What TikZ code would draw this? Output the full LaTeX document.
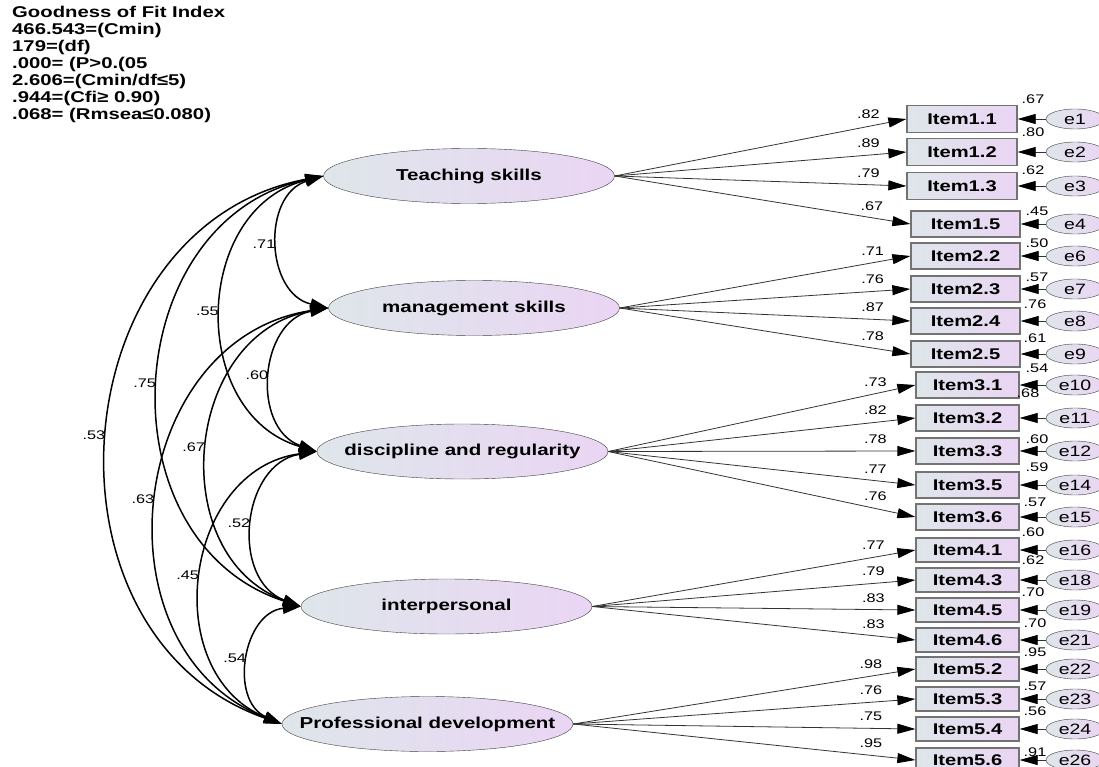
\documentclass[tikz,border=0pt]{standalone}
\usepackage{fontspec}
\setmainfont{Liberation Sans}[FakeStretch=1.3]
\usetikzlibrary{arrows.meta,shapes.geometric}
\definecolor{amos-blue}{HTML}{DEE6EA}
\definecolor{amos-lilac}{HTML}{EAD5F4}
\tikzset{
    latent/.style = {draw=black!75, ellipse, left color=amos-blue, right color=amos-lilac, minimum width=291pt, minimum height=55pt, inner xsep=-60pt, inner ysep=0pt, font=\fontsize{15.8}{17}\selectfont\bfseries},
    item-box/.style = {draw=black!55, line width=1.3pt, rectangle, left color=amos-blue, right color=amos-lilac, inner sep=0pt, font=\fontsize{15.5}{17}\selectfont\bfseries},
    error/.style = {draw=black!75, ellipse, left color=amos-blue, right color=amos-lilac, minimum width=58pt, minimum height=20pt, inner sep=0pt, font=\fontsize{15}{17}\selectfont},
    load/.style = {draw=black!80, line width=0.8pt, -{Triangle[length=18pt, width=10pt, color=black]}},
    cov/.style = {draw=black, line width=1.5pt, {Triangle[length=18pt, width=11pt]}-{Triangle[length=18pt, width=11pt]}},
    est/.style = {inner sep=1pt, font=\fontsize{12.5}{14}\selectfont},
}
\begin{document}
\begin{tikzpicture}[x=1pt, y=-1pt]
\useasboundingbox (0,0) rectangle (1099,767);

% fit statistics
\node[anchor=north west, align=left, inner sep=0pt, font=\fontsize{15.6}{17}\selectfont\bfseries] (fit) at (12,6) {Goodness of Fit Index\\466.543=(Cmin)\\179=(df)\\.000= (P>0.(05\\2.606=(Cmin/df≤5)\\.944=(Cfi≥ 0.90)\\.068= (Rmsea≤0.080)};

% factors
\node[latent] (teach) at (469,176) {Teaching skills};
\node[latent] (manage) at (474,308) {management skills};
\node[latent] (disc) at (462.5,451.5) {discipline and regularity};
\node[latent] (inter) at (446.5,606.5) {interpersonal};
\node[latent] (prof) at (427.5,724) {Professional development};

% items, errors and estimates
\foreach \nm/\txt/\cx/\bw/\bh/\cy/\fac/\ld/\vx/\vy/\vl/\err in {
    i11/Item1.1/962/110/27/119/teach/.82/1033/99/.67/e1,
    i12/Item1.2/962/110/27/152/teach/.89/1033/132/.80/e2,
    i13/Item1.3/962/110/27/186/teach/.79/1033/170/.62/e3,
    i15/Item1.5/965.5/109/26/224/teach/.67/1037/211/.45/e4,
    i22/Item2.2/965.5/109/26/256/manage/.71/1037/243/.50/e6,
    i23/Item2.3/965.5/109/26/289/manage/.76/1037/277/.57/e7,
    i24/Item2.4/965.5/109/26/321/manage/.87/1035/304/.76/e8,
    i25/Item2.5/965.5/109/26/354/manage/.78/1035/338/.61/e9,
    i31/Item3.1/967.5/103/26/385/disc/.73/1037/368/.54/e10,
    i32/Item3.2/967.5/103/26/418/disc/.82/1028/393/.68/e11,
    i33/Item3.3/967.5/103/26/451/disc/.78/1037/439/.60/e12,
    i35/Item3.5/967.5/103/26/485/disc/.77/1037/467/.59/e14,
    i36/Item3.6/967.5/103/26/517/disc/.76/1035/502/.57/e15,
    i41/Item4.1/967.5/103/24/550/inter/.77/1033/532/.60/e16,
    i43/Item4.3/967.5/103/24/580/inter/.79/1033/560/.62/e18,
    i45/Item4.5/967.5/103/24/610/inter/.83/1033/592/.70/e19,
    i46/Item4.6/967.5/103/24/640/inter/.83/1035/623/.70/e21,
    i52/Item5.2/967.5/103/24/669/prof/.98/1035/652/.95/e22,
    i53/Item5.3/967.5/103/24/699/prof/.76/1035/686/.57/e23,
    i54/Item5.4/967.5/103/24/729/prof/.75/1035/711/.56/e24,
    i56/Item5.6/967.5/103/24/760/prof/.95/1035/752/.91/e26}{
    \node[item-box, minimum width=\bw pt, minimum height=\bh pt] (\nm) at (\cx,\cy) {\txt};
    \node[error] (\err) at (1075,\cy) {\err};
    \draw[load] (\fac.east) -- (\nm.west) node[est, pos=.87, above=6pt] (l-\nm) {\ld};
    \draw[load] (\err.west) -- (\nm.east);
    \node[est] (v-\nm) at (\vx,\vy) {\vl};
}

% correlations between factors
\foreach \a/\b/\r in {teach/manage/.71, teach/disc/.55, teach/inter/.75, teach/prof/.53,
    manage/disc/.60, manage/inter/.67, manage/prof/.63,
    disc/inter/.52, disc/prof/.45, inter/prof/.54}
    \draw[cov] (\a.west) to[bend right=75, looseness=1.25] node[est, left=2pt, pos=.5] (c-\a-\b) {\r} (\b.west);
\end{tikzpicture}
\end{document}
